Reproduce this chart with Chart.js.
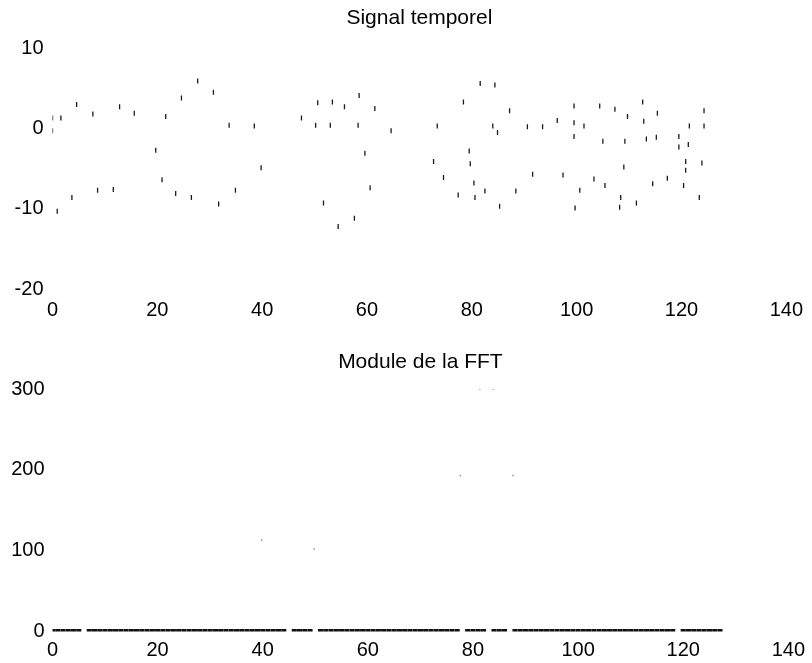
<!DOCTYPE html>
<html>
<head>
<meta charset="utf-8">
<script src="https://cdn.jsdelivr.net/npm/chart.js@4/dist/chart.umd.min.js"></script>
<style>
  html, body { margin: 0; padding: 0; background: #fff; }
  #wrap { position: relative; width: 812px; height: 663px; overflow: hidden; }
  .box { position: absolute; left: 0; width: 812px; }
  #b1 { top: 0; height: 330px; }
  #b2 { top: 330px; height: 333px; }
</style>
</head>
<body>
<div id="wrap">
  <div class="box" id="b1"><canvas id="c1" width="812" height="330"></canvas></div>
  <div class="box" id="b2"><canvas id="c2" width="812" height="333"></canvas></div>
</div>
<script>
// ---- Data ----
const titleSignal = "Signal temporel";
const titleFFT = "Module de la FFT";

const xTicks = [0, 20, 40, 60, 80, 100, 120, 140];
const signalTicks = [-20, -10, 0, 10];
const fftTicks = [0, 100, 200, 300];

// visible fragments of the time signal (sample index, value)
const sampleIndex = [0,0,1.6,0.9,3.7,4.6,7.7,8.6,11.6,12.8,
  15.6,19.7,20.9,21.6,23.5,24.6,26.5,27.7,30.7,31.7,
  33.7,34.9,38.5,39.8,47.5,50.2,50.6,51.7,53.0,53.4,
  54.5,55.7,57.6,58.3,58.5,59.6,60.6,61.5,64.6,
  72.7,73.4,74.6,77.4,78.4,79.5,79.7,80.4,80.6,81.6,
  82.5,84.0,84.4,84.9,85.3,87.2,88.4,90.6,91.6,93.5,
  96.3,97.4,99.5,99.5,99.5,99.7,100.6,101.4,103.3,104.4,
  105.0,105.4,107.3,108.2,108.4,109.0,109.2,109.7,111.4,112.6,
  112.8,113.3,114.5,115.2,115.4,117.3,119.5,119.5,120.4,120.8,
  120.8,121.3,121.5,123.4,123.9,124.3,124.3];
const signalValue = [1.3,-0.3,1.3,-10.3,-8.6,3.0,1.8,-7.7,-7.6,2.7,
  1.9,-2.7,-6.4,1.5,-8.1,3.8,-8.6,5.9,4.5,-9.4,
  0.4,-7.7,0.3,-4.9,1.3,0.4,3.2,-9.3,0.4,3.3,
  -12.2,2.7,-11.2,0.4,4.1,-3.1,-7.4,2.5,-0.3,
  -4.1,0.3,-6.1,-8.3,3.3,-2.8,-4.4,-6.8,-8.6,5.6,
  -7.8,0.3,5.4,-0.5,-9.7,2.2,-7.8,0.2,-5.7,0.2,
  1.0,-5.8,0.7,2.8,-1.0,-9.9,-7.7,0.3,-6.3,2.8,
  -1.6,-7.1,2.4,-9.8,-8.6,-4.8,-1.6,1.5,-9.3,3.3,
  0.9,-1.3,-6.9,-1.1,1.9,-6.2,-1.0,-2.3,-7.1,-4.1,
  -5.2,-2.0,0.3,-8.6,-4.3,2.2,0.3];

// FFT module: bins visible along the baseline (missing bins are gaps in the scan)
const fftBins = [0,1,2,3,4,5,7,8,9,10,11,12,13,14,15,16,17,18,19,20,
  21,22,23,24,25,26,27,28,29,30,31,32,33,34,35,36,37,38,39,40,
  41,42,43,44,46,47,48,49,51,52,53,54,55,56,57,58,59,60,61,62,
  63,64,65,66,67,68,69,70,71,72,73,74,75,76,77,79,80,81,82,84,
  85,86,88,89,90,91,92,93,94,95,96,97,98,99,100,101,102,103,104,105,
  106,107,108,109,110,111,112,113,114,115,116,117,118,120,121,122,123,124,125,126,127];
const fftModule = [1,1,1,1,1,1,1,1,1,1,1,1,1,1,1,1,1,1,1,1,
  1,1,1,1,1,1,1,1,1,1,1,1,1,1,1,1,1,1,1,1,
  1,1,1,1,1,1,1,1,1,1,1,1,1,1,1,1,1,1,1,1,
  1,1,1,1,1,1,1,1,1,1,1,1,1,1,1,1,1,1,1,1,
  1,1,1,1,1,1,1,1,1,1,1,1,1,1,1,1,1,1,1,1,
  1,1,1,1,1,1,1,1,1,1,1,1,1,1,1,1,1,1,1,1,1];
// faint remnants of the FFT peaks
const peakBins = [39.8, 49.8, 77.6, 81.3, 83.8, 87.6];
const peakModule = [113, 102, 193, 300, 300, 193];

// ---- Rendering ----
const FONT = "'Liberation Sans', Arial, Helvetica, sans-serif";

function pairs(xs, ys) { return xs.map((x, i) => ({ x: x, y: ys[i] })); }

function makeChart(canvas, cfg) {
  return new Chart(canvas, {
    type: 'scatter',
    data: { datasets: cfg.datasets },
    options: {
      responsive: false,
      animation: false,
      events: [],
      layout: { padding: { left: 0, right: 19, top: 0, bottom: 0 } },
      plugins: {
        legend: { display: false },
        tooltip: { enabled: false },
        title: {
          display: true,
          text: cfg.title,
          fullSize: false,
          color: '#000',
          font: { family: FONT, size: 21, weight: 'normal', lineHeight: 1.2 },
          padding: cfg.titlePad
        }
      },
      scales: {
        x: {
          type: 'linear',
          min: 0, max: 140,
          afterBuildTicks: s => { s.ticks = xTicks.map(v => ({ value: v })); },
          afterFit: s => { s.height = cfg.xHeight; },
          grid: { display: false, drawTicks: false },
          border: { display: false },
          ticks: { color: '#000', padding: cfg.xPad, maxRotation: 0,
                   font: { family: FONT, size: 20 } }
        },
        y: {
          type: 'linear',
          min: cfg.yMin, max: cfg.yMax,
          afterBuildTicks: s => { s.ticks = cfg.yTicks.map(v => ({ value: v })); },
          afterFit: s => { s.width = 52.5; },
          grid: { display: false, drawTicks: false },
          border: { display: false },
          ticks: { color: '#000', padding: cfg.yPad,
                   font: { family: FONT, size: 20 } }
        }
      }
    }
  });
}

makeChart(document.getElementById('c1'), {
  title: titleSignal,
  titlePad: { top: 6, bottom: 17 },
  xHeight: 41, xPad: 9, yPad: 9,
  yMin: -20, yMax: 10, yTicks: signalTicks,
  datasets: [{
    data: pairs(sampleIndex, signalValue),
    pointStyle: 'line',
    rotation: 90,
    pointRadius: 2.5,
    borderColor: '#1a1a1a',
    backgroundColor: '#1a1a1a',
    borderWidth: 1.3
  }]
});

makeChart(document.getElementById('c2'), {
  title: titleFFT,
  titlePad: { top: 20, bottom: 14 },
  xHeight: 31.5, xPad: 7, yPad: 8,
  yMin: 0, yMax: 300, yTicks: fftTicks,
  datasets: [{
    data: pairs(fftBins, fftModule),
    pointStyle: 'line',
    rotation: 0,
    pointRadius: 2.55,
    borderColor: '#111',
    backgroundColor: '#111',
    borderWidth: 3.2
  }, {
    data: pairs(peakBins, peakModule),
    pointStyle: 'circle',
    pointRadius: 0.9,
    borderWidth: 0,
    backgroundColor: '#9a9a9a'
  }]
});
</script>
</body>
</html>
